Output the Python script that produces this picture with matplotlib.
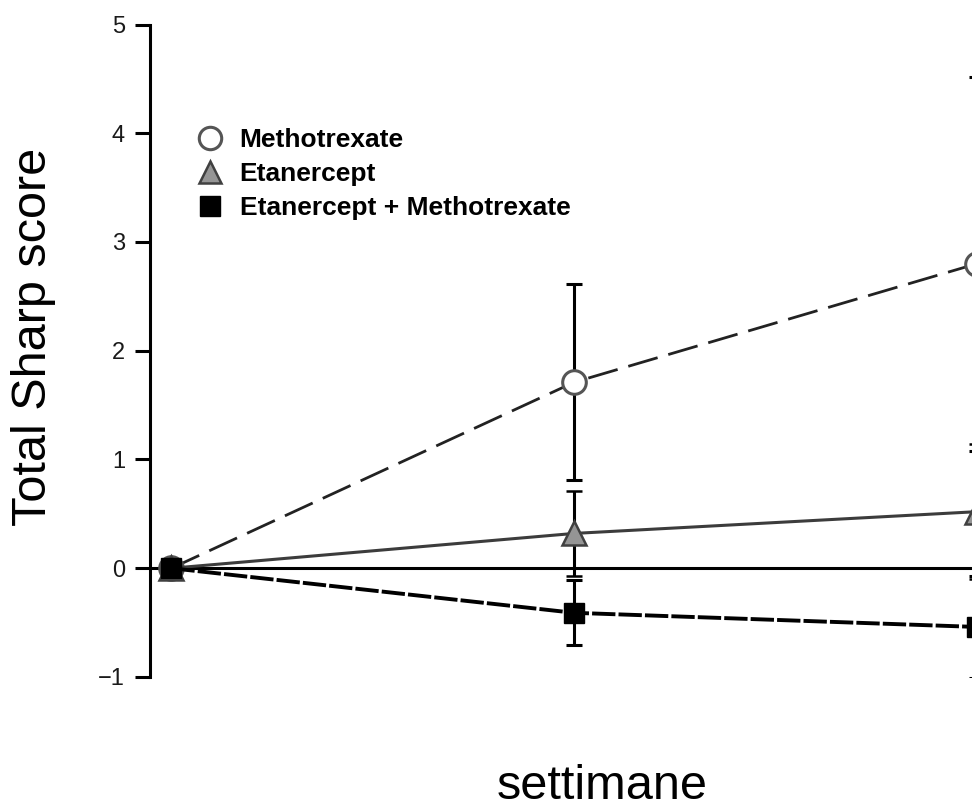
import matplotlib.pyplot as plt

# weeks of follow-up and mean change in total Sharp score
weeks = [0, 12, 24]
mtx = [0.0, 1.71, 2.80]
mtx_err = [0.0, 0.90, 1.72]
etn = [0.0, 0.32, 0.52]
etn_err = [0.0, 0.39, 0.62]
combo = [0.0, -0.41, -0.54]
combo_err = [0.0, 0.30, 0.47]

labels = ['Methotrexate', 'Etanercept', 'Etanercept + Methotrexate']

plt.rcParams['font.family'] = ['Liberation Sans', 'DejaVu Sans']

fig = plt.figure(figsize=(9.72, 8.09), dpi=100)
ax = fig.add_axes([0.1543, 0.1632, 0.8457, 0.8065])

ax.axhline(0, color='black', lw=2.2, zorder=1)

err_kw = dict(ecolor='black', elinewidth=2.2, capsize=5.8, capthick=2.2)

ax.errorbar(weeks, mtx, yerr=mtx_err, color='#222222', lw=2,
            linestyle=(0, (11, 4)), marker='o', markersize=17,
            markerfacecolor='white', markeredgecolor='#555555',
            markeredgewidth=2.2, label=labels[0], zorder=3, **err_kw)
ax.errorbar(weeks, etn, yerr=etn_err, color='#3c3c3c', lw=2.2,
            linestyle='-', marker='^', markersize=17,
            markerfacecolor='#959595', markeredgecolor='#404040',
            markeredgewidth=1.8, label=labels[1], zorder=4, **err_kw)
ax.errorbar(weeks, combo, yerr=combo_err, color='black', lw=2.8,
            linestyle=(0, (6, 0.8)), marker='s', markersize=15,
            markerfacecolor='black', markeredgecolor='black',
            label=labels[2], zorder=5, **err_kw)

ax.set_xlim(-0.64, 23.86)
ax.set_ylim(-1, 5)
ax.set_yticks([-1, 0, 1, 2, 3, 4, 5])
ax.set_xticks([])

for side in ['top', 'right', 'bottom']:
    ax.spines[side].set_visible(False)
ax.spines['left'].set_linewidth(2.2)
ax.tick_params(axis='y', length=11, width=2.2, labelsize=17, pad=7,
               labelcolor='#1a1a1a')

fig.text(0.034, 0.5834, 'Total Sharp score', fontsize=35, rotation=90,
         ha='center', va='center')
fig.text(0.619, 0.0124, 'settimane', fontsize=35, ha='center',
         va='baseline')

handles, lbls = ax.get_legend_handles_labels()
leg = ax.legend([h[0] for h in handles], lbls, loc='upper left',
                bbox_to_anchor=(0.2053, 0.855), bbox_transform=fig.transFigure,
                frameon=False, prop={'weight': 'bold', 'size': 19},
                handlelength=0, handletextpad=1.12, labelspacing=0.39,
                markerscale=0.95, borderaxespad=0)

fig.savefig('out.png', dpi=100)
